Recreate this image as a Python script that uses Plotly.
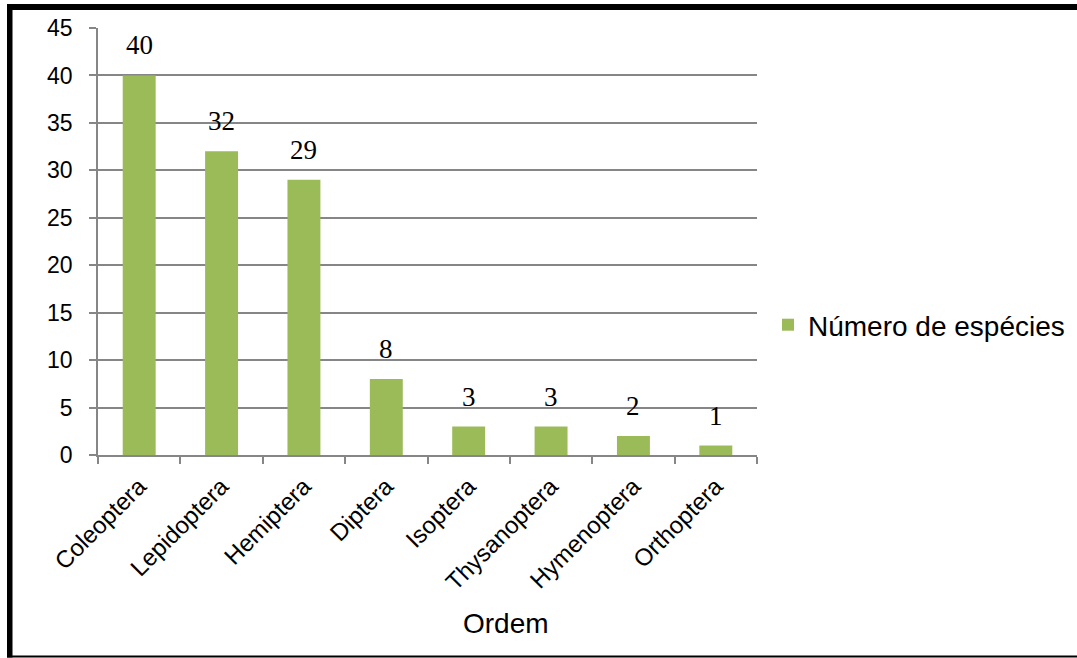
import plotly.graph_objects as go

categories = ["Coleoptera", "Lepidoptera", "Hemiptera", "Diptera",
              "Isoptera", "Thysanoptera", "Hymenoptera", "Orthoptera"]
values = [40, 32, 29, 8, 3, 3, 2, 1]
series_name = "Número de espécies"
y_ticks = [0, 5, 10, 15, 20, 25, 30, 35, 40, 45]

W, H = 1077, 658
L, R, T, B = 98, 320, 28, 203
pw, ph = W - L - R, H - T - B


def px(x):
    return (x - L) / pw


def py(y):
    return (H - B - y) / ph


fig = go.Figure()
fig.add_trace(go.Bar(
    x=categories, y=values, name=series_name,
    marker=dict(color="#9BBB59", line=dict(width=0)),
    showlegend=True,
))

for c, v in zip(categories, values):
    fig.add_annotation(x=c, y=v, text=str(v), showarrow=False,
                       yanchor="bottom", yshift=13,
                       font=dict(family="Liberation Serif", size=27, color="#000"))

fig.add_annotation(x=px(506), y=py(623), xref="paper", yref="paper",
                   text="Ordem", showarrow=False, xanchor="center", yanchor="middle",
                   font=dict(family="Liberation Sans, Arial", size=28, color="#000"))

# outer frame (top, left, bottom)
shapes = [
    dict(type="rect", xref="paper", yref="paper", x0=px(7), x1=px(1077),
         y0=py(10), y1=py(4), fillcolor="#000", line=dict(width=0)),
    dict(type="rect", xref="paper", yref="paper", x0=px(7), x1=px(12.5),
         y0=py(657.5), y1=py(4), fillcolor="#000", line=dict(width=0)),
    dict(type="rect", xref="paper", yref="paper", x0=px(7), x1=px(1077),
         y0=py(657.5), y1=py(655.5), fillcolor="#000", line=dict(width=0)),
]

fig.update_layout(
    width=W, height=H,
    margin=dict(l=L, r=R, t=T, b=B, pad=0, autoexpand=False),
    paper_bgcolor="white", plot_bgcolor="white",
    bargap=0.6,
    shapes=shapes,
    font=dict(family="Liberation Sans, Arial", color="#000"),
    legend=dict(x=px(768), y=py(325), xanchor="left", yanchor="middle",
                font=dict(family="Liberation Sans, Arial", size=28, color="#000"),
                bgcolor="rgba(0,0,0,0)"),
    xaxis=dict(
        type="category", tickson="boundaries", ticks="outside", ticklen=7,
        tickcolor="#868686", tickwidth=1.5, showgrid=False,
        showline=True, linecolor="#868686", linewidth=1.5,
        tickangle=-45, tickfont=dict(size=24, family="Liberation Sans, Arial"),
        zeroline=False, ticklabelstandoff=6, automargin=False,
    ),
    yaxis=dict(
        range=[0, 45], tickmode="array", tickvals=y_ticks,
        ticks="outside", ticklen=7, tickcolor="#868686", tickwidth=1.5,
        showgrid=True, gridcolor="#868686", gridwidth=1.5,
        showline=True, linecolor="#868686", linewidth=1.5,
        zeroline=False, tickfont=dict(size=23, family="Liberation Sans, Arial"),
        ticklabelstandoff=12, automargin=False,
    ),
)

fig.write_html("out.html")
